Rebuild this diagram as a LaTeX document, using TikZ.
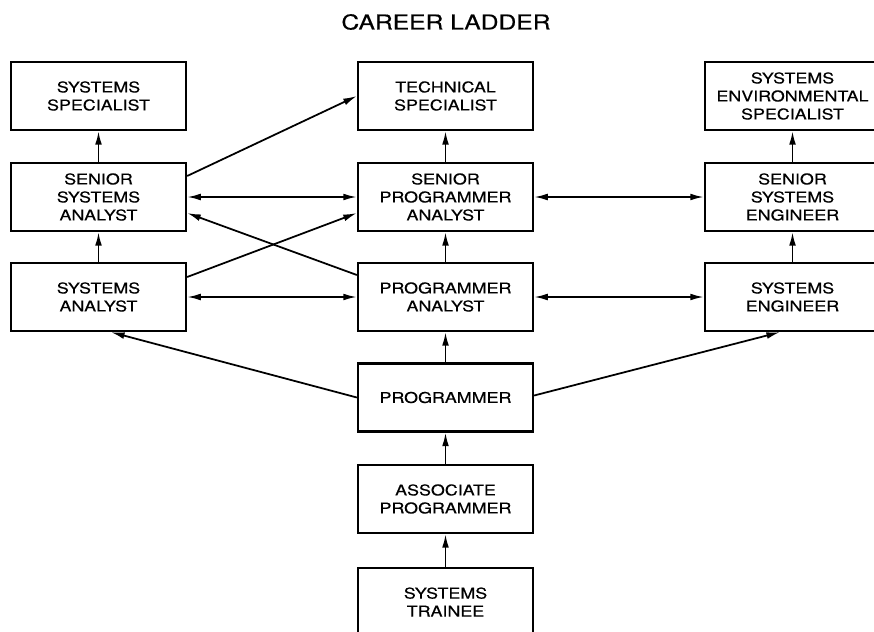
\documentclass[tikz,border=0pt]{standalone}
\usepackage{fontspec}
\setmainfont{TeX Gyre Heros}[FakeStretch=1.2,FakeBold=0.4]
\usetikzlibrary{arrows.meta}

\begin{document}
\begin{tikzpicture}[x=0.025cm,y=-0.025cm,>={Latex[length=3.4mm,width=1.7mm]},
  box/.style={draw,line width=1.6pt,minimum width=4.375cm,minimum height=1.7cm,
    inner sep=0pt,align=center,font=\fontsize{10.6}{12.8}\selectfont},
  link/.style={line width=1.25pt}]
  \clip (0,0) rectangle (874,631);
  \node (title) at (446,22) {\fontsize{14.6}{16}\selectfont CAREER LADDER};
  % top row
  \node[box] (ss)  at (98.5,96)  {SYSTEMS\\SPECIALIST};
  \node[box] (ts)  at (445.5,96) {TECHNICAL\\SPECIALIST};
  \node[box] (ses) at (792.5,96) {SYSTEMS\\ENVIRONMENTAL\\SPECIALIST};
  % senior row
  \node[box] (ssa) at (98.5,197)  {SENIOR\\SYSTEMS\\ANALYST};
  \node[box] (spa) at (445.5,197) {SENIOR\\PROGRAMMER\\ANALYST};
  \node[box] (sse) at (792.5,197) {SENIOR\\SYSTEMS\\ENGINEER};
  % analyst row
  \node[box] (sa) at (98.5,297)  {SYSTEMS\\ANALYST};
  \node[box] (pa) at (445.5,297) {PROGRAMMER\\ANALYST};
  \node[box] (se) at (792.5,297) {SYSTEMS\\ENGINEER};
  % entry levels
  \node[box] (prog) at (445.5,397.5) {PROGRAMMER};
  \node[box] (ap)   at (445.5,499)   {ASSOCIATE\\PROGRAMMER};
  \node[box] (st)   at (445.5,602)   {SYSTEMS\\TRAINEE};

  % vertical steps
  \draw[link,->] (ssa) -- (ss);
  \draw[link,->] (sa) -- (ssa);
  \draw[link,->] (spa) -- (ts);
  \draw[link,->] (pa) -- (spa);
  \draw[link,->] (prog) -- (pa);
  \draw[link,->] (ap) -- (prog);
  \draw[link,->] (st) -- (ap);
  \draw[link,->] (sse) -- (ses);
  \draw[link,->] (se) -- (sse);
  % sideways moves
  \draw[link,<->] (ssa.east) -- (spa.west);
  \draw[link,<->] (spa.east) -- (sse.west);
  \draw[link,<->] (sa.east) -- (pa.west);
  \draw[link,<->] (pa.east) -- (se.west);
  % diagonals
  \draw[link,->] ([yshift=0.525cm]ssa.east) -- (ts.west);
  \draw[link,->] ([yshift=0.5cm]sa.east) -- ([yshift=-0.4cm]spa.west);
  \draw[link,->] ([yshift=0.55cm]pa.west) -- ([yshift=-0.4cm]ssa.east);
  \draw[link,->] (prog.west) -- ([xshift=0.3125cm]sa.south);
  \draw[link,->] ([yshift=0.05cm]prog.east) -- ([xshift=-0.3125cm]se.south);
\end{tikzpicture}
\end{document}
